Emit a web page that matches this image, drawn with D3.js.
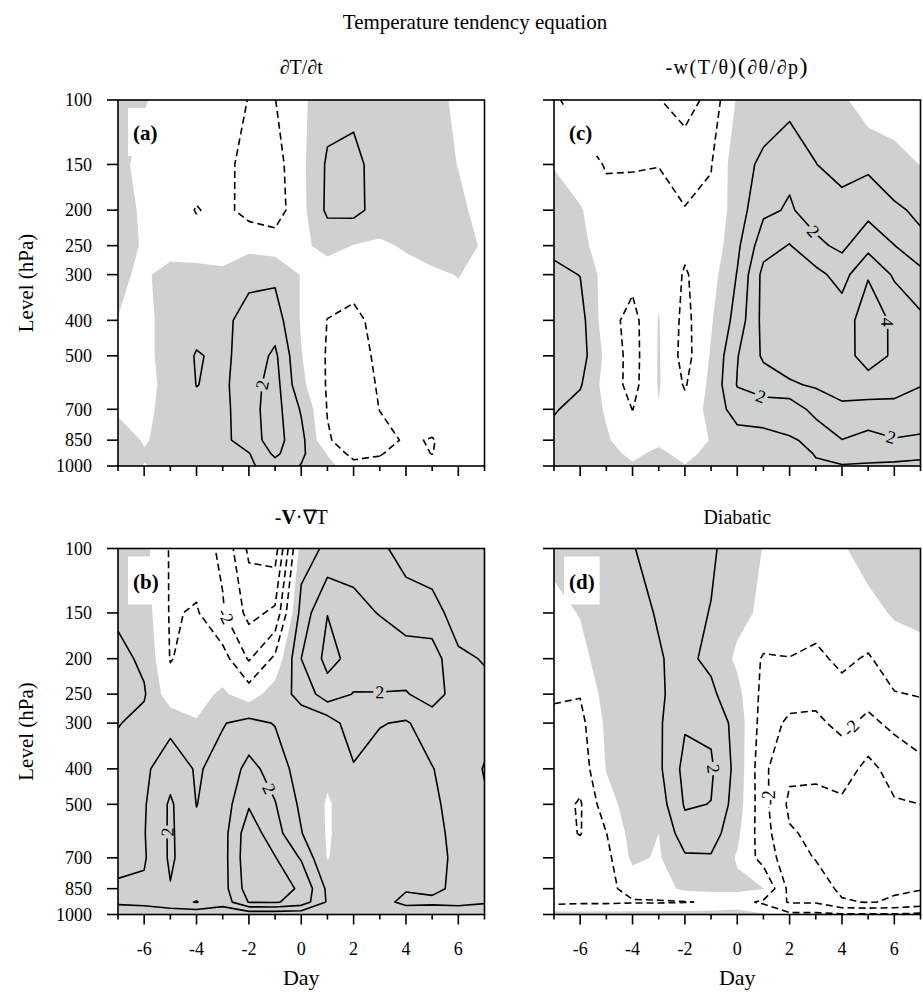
<!DOCTYPE html>
<html>
<head>
<meta charset="utf-8">
<title>Temperature tendency equation</title>
<script src="https://cdn.jsdelivr.net/npm/d3@7"></script>
<style>
  body { margin: 0; background: #fff; }
  text { font-family: "Liberation Serif", "Times New Roman", serif; fill: #000; }
</style>
</head>
<body>
<script>
// grid: days (columns) x pressure levels (rows, top to bottom)
var days = [-7, -6, -5, -4, -3, -2, -1, 0, 1, 2, 3, 4, 5, 6, 7];
var levels = [100, 150, 200, 250, 300, 400, 500, 600, 700, 850, 925, 1000];
var dayTicks = [-6, -4, -2, 0, 2, 4, 6];
var levelTicks = [100, 150, 200, 250, 300, 400, 500, 700, 850, 1000];
var lineLevels = [-5, -4, -3, -2, -1, 1, 2, 3, 4, 5];

// (a) dT/dt
var dTdt = [
  [0.4, 0.06, -0.3, -0.5, -0.7, -1.02, -1.02, -0.2, 0.6, 0.7, 0.6, 0.5, 0.25, -0.15, -0.4],
  [0.25, -0.3, -0.4, -0.6, -0.7, -1.35, -1.4, -0.25, 1.15, 1.3, 0.55, 0.45, 0.3, -0.02, -0.3],
  [0.25, -0.1, -0.5, -1.05, -0.75, -1.3, -1.5, -0.3, 1.2, 1.3, 0.6, 0.4, 0.3, 0.15, -0.25],
  [0.2, -0.05, -0.3, -0.6, -0.5, -0.35, -0.5, -0.2, 0.3, -0.03, -0.15, 0.1, 0.25, 0.3, -0.1],
  [0.1, -0.1, 0.25, 0.4, 0.2, 0.9, 0.8, -0.05, -0.5, -0.5, -0.4, -0.3, -0.1, 0.02, -0.2],
  [-0.01, -0.2, 0.3, 0.6, 0.9, 1.15, 1.5, -0.1, -1.02, -1.3, -0.6, -0.4, -0.3, -0.2, -0.2],
  [-0.3, -0.2, 0.3, 1.08, 0.8, 1.4, 2.2, 0.05, -1.1, -1.4, -0.8, -0.4, -0.3, -0.3, -0.2],
  [-0.3, -0.25, 0.25, 1.02, 0.8, 1.6, 2.4, 0.25, -1.1, -1.5, -0.9, -0.5, -0.4, -0.3, -0.2],
  [-0.1, -0.2, 0.3, 0.77, 0.7, 1.7, 2.4, 0.9, -1.05, -1.6, -0.98, -0.6, -0.5, -0.4, -0.3],
  [0.3, -0.05, 0.2, 0.5, 0.7, 1.6, 2.4, 1.3, -0.9, -1.5, -1.3, -0.9, -1.05, -0.6, -0.4],
  [0.4, 0.05, 0.1, 0.3, 0.5, 0.95, 2.2, 1.2, -0.05, -1.4, -1.05, -0.7, -1.02, -0.5, -0.3],
  [0.3, -0.02, 0.1, 0.3, 0.6, 0.8, 1.6, 0.95, 0.3, -0.6, -0.8, -0.6, -0.7, -0.4, -0.3]
];

// (b) horizontal advection
var hAdv = [
  [0.5, 0.3, -1.1, -1.5, -2.2, -4.2, -4.5, 0.5, 1.21, 1.8, 1.2, 0.6, 0.4, 0.2, 0.1],
  [0.8, 0.5, -1.1, -0.9, -1.9, -3.3, -2.8, 1.4, 2.98, 2.13, 1.98, 1.5, 1.35, 0.6, 0.5],
  [1.3, 0.8, -1.05, -0.6, -0.61, -2.1, -0.8, 2.0, 3.3, 2.7, 2.3, 2.5, 2.5, 1.15, 0.95],
  [1.5, 1.1, -0.6, -0.3, 0.15, -0.5, 0.5, 1.3, 2.57, 1.95, 1.98, 1.94, 2.39, 1.6, 1.2],
  [1.05, 0.7, 0.7, 0.06, 0.95, 1.3, 0.95, 0.5, 0.45, 1.6, 1.05, 0.9, 1.5, 1.6, 1.3],
  [0.6, 0.8, 1.6, 0.9, 1.3, 2.3, 1.6, 0.5, 0.2, 0.9, 0.6, 0.5, 0.96, 1.5, 0.95],
  [0.5, 0.9, 2.15, 0.98, 1.5, 2.9, 2.05, 0.8, -0.1, 0.5, 0.5, 0.5, 0.8, 1.4, 1.1],
  [0.6, 0.95, 2.15, 1.2, 1.6, 3.6, 2.4, 1.05, -0.1, 0.5, 0.5, 0.5, 0.7, 1.3, 1.2],
  [0.8, 0.9, 2.15, 1.3, 1.6, 3.7, 3.05, 1.9, -0.05, 0.6, 0.6, 0.5, 0.7, 1.2, 1.2],
  [1.1, 1.15, 1.95, 1.5, 1.6, 3.5, 3.3, 2.9, 0.8, 0.7, 0.6, 0.9, 0.8, 1.2, 1.2],
  [1.2, 1.3, 1.6, 2.05, 1.4, 3.05, 3.1, 2.6, 0.9, 0.6, 0.6, 1.3, 1.2, 1.3, 1.1],
  [0.2, 0.3, 0.4, 0.3, 0.3, 0.3, 0.3, 0.3, 0.3, 0.2, 0.2, 0.2, 0.3, 0.3, 0.3]
];

// (c) vertical motion term
var vertTerm = [
  [-0.9, -1.3, -1.5, -1.7, -1.95, -2.5, -1.63, 0.12, 0.45, 0.6, 0.5, 0.2, -0.6, -0.5, -0.6],
  [-0.05, -0.7, -1.05, -1.1, -1.02, -1.3, -1.05, 0.6, 1.2, 1.8, 1.02, 0.6, 0.8, 0.3, -0.02],
  [0.4, 0.1, -0.8, -0.5, -0.7, -0.97, -0.8, 0.5, 1.8, 2.1, 1.6, 1.4, 1.7, 1.18, 0.8],
  [0.8, 0.31, -0.6, -0.5, -0.3, -0.8, -0.7, 0.8, 2.6, 3.05, 2.2, 1.8, 2.67, 2.02, 1.24],
  [1.2, 0.98, -0.5, -0.7, -0.2, -1.1, -0.4, 1.05, 3.3, 3.5, 3.3, 2.6, 3.94, 2.85, 2.3],
  [1.5, 1.4, -0.6, -1.35, 0.05, -1.3, -0.1, 1.4, 3.3, 3.7, 3.6, 3.58, 4.44, 3.85, 3.2],
  [1.6, 1.47, -0.28, -1.4, 0.08, -1.4, 0.1, 1.95, 3.15, 3.4, 3.5, 3.7, 4.3, 3.9, 3.3],
  [1.5, 1.1, -0.4, -1.35, 0.08, -1.1, 0.25, 2.05, 2.5, 2.9, 3.1, 3.4, 3.7, 3.4, 3.05],
  [1.1, 0.6, -0.1, -1.02, -0.05, -0.65, 0.3, 1.5, 1.5, 1.3, 2.4, 2.8, 2.53, 2.69, 2.4],
  [0.6, 0.5, 0.1, -0.5, -0.2, -0.5, 0.05, 0.5, 0.67, 0.95, 1.1, 1.98, 1.75, 1.95, 1.9],
  [0.6, 0.5, 0.3, -0.2, 0.2, -0.3, 0.3, 0.3, 0.5, 0.6, 1.05, 1.5, 1.4, 1.3, 1.2],
  [0.6, 0.6, 0.5, 0.1, 0.5, 0.05, 0.5, 0.2, 0.4, 0.4, 0.9, 0.93, 0.87, 0.85, 0.8]
];

// (d) diabatic
var diabatic = [
  [0.3, 0.4, 0.6, 0.95, 1.4, 1.6, 1.2, 0.33, -0.02, -0.3, -0.4, -0.1, 0.4, 0.6, 0.7],
  [-0.3, 0.05, 0.6, 0.8, 1.05, 1.4, 0.95, 0.3, -0.2, -0.5, -0.6, -0.1, -0.3, 0.1, 0.3],
  [-0.6, -0.3, 0.5, 0.8, 0.95, 1.2, 0.8, -0.2, -1.1, -1.02, -1.2, -0.8, -1.1, -0.5, -0.4],
  [-0.9, -0.95, 0.4, 0.8, 0.9, 1.3, 1.2, 0.3, -1.3, -1.6, -1.8, -1.3, -1.7, -1.05, -0.95],
  [-1.2, -1.3, 0.2, 0.7, 0.85, 1.9, 1.8, 0.6, -1.5, -2.2, -2.15, -1.8, -2.2, -1.8, -1.4],
  [-1.5, -1.6, 0.05, 0.6, 0.8, 2.3, 2.15, 0.65, -1.8, -2.8, -2.85, -2.5, -3.3, -2.6, -2.3],
  [-1.6, -2.1, -0.4, 0.5, 0.5, 2.1, 1.98, 0.5, -1.7, -3.2, -3.2, -3.2, -3.5, -3.1, -3.0],
  [-1.6, -2.05, -1.02, 0.4, 0.0, 1.6, 1.5, 0.2, -1.6, -2.9, -3.2, -3.4, -3.6, -3.2, -3.05],
  [-1.5, -1.5, -1.3, 0.2, -0.1, 0.85, 0.9, -0.1, -1.4, -2.6, -3.05, -3.4, -3.5, -3.2, -3.1],
  [-1.4, -1.4, -1.3, -0.6, -0.4, 0.2, 0.3, 0.2, 0.02, -2.3, -2.5, -3.2, -3.3, -3.1, -3.05],
  [-1.3, -1.2, -1.2, -1.1, -1.1, -1.05, -0.9, -0.6, -1.2, -2.1, -2.1, -2.9, -3.05, -2.9, -2.6],
  [0.4, 0.4, 0.4, 0.4, 0.4, 0.4, 0.4, 0.4, 0.1, -0.8, -0.8, -0.9, -0.9, -0.9, -0.8]
];

// contour labels: value, and where (day, hPa) they sit
var labelsA = [{v: 2, day: -1.5, p: 600}];
var labelsB = [{v: -2, day: -2.8, p: 152}, {v: 2, day: 3.0, p: 250}, {v: 2, day: -1.27, p: 455}, {v: 2, day: -5.09, p: 595}];
var labelsC = [{v: 2, day: 2.92, p: 228}, {v: 2, day: 0.89, p: 650}, {v: 4, day: 5.85, p: 405}, {v: 2, day: 5.85, p: 845}];
var labelsD = [{v: 2, day: -1.0, p: 400}, {v: -2, day: 4.45, p: 315}, {v: -2, day: 1.07, p: 480}];

var W = 923, H = 994;
var gray = "#cfd1d1";

var svg = d3.select("body").append("svg").attr("width", W).attr("height", H);

var panels = [
  {id: "(a)", data: dTdt, labels: labelsA, x0: 118, x1: 484.5, y0: 100, y1: 466, xLab: false, yLab: true},
  {id: "(c)", data: vertTerm, labels: labelsC, x0: 554, x1: 920.5, y0: 100, y1: 466, xLab: false, yLab: false},
  {id: "(b)", data: hAdv, labels: labelsB, x0: 118, x1: 484.5, y0: 548.5, y1: 914.5, xLab: true, yLab: true},
  {id: "(d)", data: diabatic, labels: labelsD, x0: 554, x1: 920.5, y0: 548.5, y1: 914.5, xLab: true, yLab: false}
];

function clamp(v, a, b) { return Math.max(a, Math.min(b, v)); }

panels.forEach(function(P, pi) {
  var nx = days.length, ny = levels.length;
  var x = d3.scaleLinear().domain([days[0], days[nx - 1]]).range([P.x0, P.x1]);
  var y = d3.scaleLog().domain([levels[0], levels[ny - 1]]).range([P.y0, P.y1]);
  var g = svg.append("g");

  svg.append("clipPath").attr("id", "clip" + pi)
    .append("rect").attr("x", P.x0).attr("y", P.y0)
    .attr("width", P.x1 - P.x0).attr("height", P.y1 - P.y0);

  // contour grid point -> grid index (values sit at half-cells in d3.contours)
  function idx(pt) { return [clamp(pt[0] - 0.5, 0, nx - 1), clamp(pt[1] - 0.5, 0, ny - 1)]; }
  function scr(q) {
    var i = Math.min(Math.floor(q[0]), nx - 2), fi = q[0] - i;
    var j = Math.min(Math.floor(q[1]), ny - 2), fj = q[1] - j;
    var sx = x(days[i]) + fi * (x(days[i + 1]) - x(days[i]));
    var sy = y(levels[j]) + fj * (y(levels[j + 1]) - y(levels[j]));
    return [sx, sy];
  }
  var eps = 1e-6;
  function sameEdge(a, b) {
    return (a[0] <= eps && b[0] <= eps) || (a[0] >= nx - 1 - eps && b[0] >= nx - 1 - eps) ||
           (a[1] <= eps && b[1] <= eps) || (a[1] >= ny - 1 - eps && b[1] >= ny - 1 - eps);
  }

  var flat = [];
  P.data.forEach(function(row) { row.forEach(function(v) { flat.push(v); }); });
  var gen = d3.contours().size([nx, ny]);

  // shading where value > 0
  var pos = gen.thresholds([0])(flat)[0];
  var dFill = "";
  pos.coordinates.forEach(function(poly) {
    poly.forEach(function(ring) {
      dFill += "M" + ring.map(function(p) { return scr(idx(p)).join(","); }).join("L") + "Z";
    });
  });
  g.append("path").attr("d", dFill).attr("fill", gray).attr("fill-rule", "evenodd")
    .attr("clip-path", "url(#clip" + pi + ")");

  // contour lines, drop the pieces that run along the frame
  var segsByLevel = {};
  gen.thresholds(lineLevels)(flat).forEach(function(c) {
    var segs = segsByLevel[c.value] = [];
    var d = "";
    c.coordinates.forEach(function(poly) {
      poly.forEach(function(ring) {
        var pts = ring.map(idx);
        var down = false;
        for (var k = 0; k < pts.length - 1; k++) {
          var a = pts[k], b = pts[k + 1];
          if (sameEdge(a, b)) { down = false; continue; }
          var sa = scr(a), sb = scr(b);
          if (!down) { d += "M" + sa.join(","); down = true; }
          d += "L" + sb.join(",");
          segs.push([sa, sb]);
        }
      });
    });
    if (d) {
      g.append("path").attr("d", d).attr("fill", "none").attr("stroke", "#000")
        .attr("stroke-width", 1.6).attr("stroke-linejoin", "round")
        .attr("stroke-dasharray", c.value < 0 ? "7,4" : null)
        .attr("clip-path", "url(#clip" + pi + ")");
    }
  });

  // contour labels along the line
  P.labels.forEach(function(L) {
    var segs = segsByLevel[L.v];
    if (!segs || !segs.length) return;
    var tx = x(L.day), ty = y(L.p), best = null, bd = Infinity;
    segs.forEach(function(s) {
      var ax = s[0][0], ay = s[0][1], bx = s[1][0], by = s[1][1];
      var dx = bx - ax, dy = by - ay, len2 = dx * dx + dy * dy;
      if (len2 < 1e-9) return;
      var t = clamp(((tx - ax) * dx + (ty - ay) * dy) / len2, 0, 1);
      var px = ax + t * dx, py = ay + t * dy;
      var dist = (px - tx) * (px - tx) + (py - ty) * (py - ty);
      if (dist < bd) { bd = dist; best = {pt: [px, py], ang: Math.atan2(dy, dx) * 180 / Math.PI}; }
    });
    var ang = best.ang;
    if (ang > 90) ang -= 180;
    if (ang < -90) ang += 180;
    var lg = g.append("g").attr("transform", "translate(" + best.pt[0] + "," + best.pt[1] + ") rotate(" + ang + ")");
    var bg = lg.append("rect");
    var lt = lg.append("text").attr("text-anchor", "middle").attr("dy", "0.35em")
      .attr("font-size", 18).text(L.v);
    var bb = lt.node().getBBox();
    bg.attr("x", bb.x - 2).attr("y", -6).attr("width", bb.width + 4).attr("height", 12)
      .attr("fill", L.v > 0 ? gray : "#fff");
  });

  // panel letter in a white box
  var idg = g.append("g");
  var idBox = idg.append("rect").attr("fill", "#fff");
  var idText = idg.append("text").attr("x", P.x0 + 15).attr("y", P.y0 + 40)
    .attr("font-size", 21).attr("font-weight", "bold").text(P.id);
  var ib = idText.node().getBBox();
  idBox.attr("x", ib.x - 5).attr("y", P.y0 + 8).attr("width", ib.width + 10).attr("height", 48);

  // frame
  g.append("rect").attr("x", P.x0).attr("y", P.y0).attr("width", P.x1 - P.x0)
    .attr("height", P.y1 - P.y0).attr("fill", "none").attr("stroke", "#000").attr("stroke-width", 1.6);

  // y ticks
  levelTicks.forEach(function(p) {
    g.append("line").attr("x1", P.x0 - 11).attr("x2", P.x0).attr("y1", y(p)).attr("y2", y(p))
      .attr("stroke", "#000").attr("stroke-width", 1.6);
    if (P.yLab) {
      g.append("text").attr("x", P.x0 - 26).attr("y", y(p)).attr("dy", "0.35em")
        .attr("text-anchor", "end").attr("font-size", 18).text(p);
    }
  });

  // x ticks, long on labelled days
  days.forEach(function(d) {
    var major = dayTicks.indexOf(d) >= 0;
    g.append("line").attr("x1", x(d)).attr("x2", x(d)).attr("y1", P.y1).attr("y2", P.y1 + (major ? 10 : 5))
      .attr("stroke", "#000").attr("stroke-width", 1.6);
    if (P.xLab && major) {
      g.append("text").attr("x", x(d)).attr("y", P.y1 + 40).attr("text-anchor", "middle")
        .attr("font-size", 18).text(d);
    }
  });

  if (P.yLab) {
    g.append("text").attr("transform", "translate(33," + ((P.y0 + P.y1) / 2) + ") rotate(-90)")
      .attr("text-anchor", "middle").attr("font-size", 21).text("Level (hPa)");
  }
  if (P.xLab) {
    g.append("text").attr("x", (P.x0 + P.x1) / 2).attr("y", P.y1 + 70).attr("text-anchor", "middle")
      .attr("font-size", 22).text("Day");
  }
  P.cx = (P.x0 + P.x1) / 2;
});

// titles
svg.append("text").attr("x", 475).attr("y", 29).attr("text-anchor", "middle")
  .attr("font-size", 21).text("Temperature tendency equation");
svg.append("text").attr("x", panels[0].cx).attr("y", 74).attr("text-anchor", "middle")
  .attr("font-size", 20).text("\u2202T/\u2202t");
var tc = svg.append("text").attr("x", panels[1].cx).attr("y", 74).attr("text-anchor", "middle")
  .attr("font-size", 20).attr("letter-spacing", 1.5);
tc.append("tspan").text("-w(T/\u03b8)");
tc.append("tspan").attr("font-size", 24).text("(");
tc.append("tspan").text("\u2202\u03b8/\u2202p");
tc.append("tspan").attr("font-size", 24).text(")");
var tb = svg.append("text").attr("x", panels[2].cx).attr("y", 524).attr("text-anchor", "middle")
  .attr("font-size", 20);
tb.append("tspan").text("-");
tb.append("tspan").attr("font-weight", "bold").text("V");
tb.append("tspan").text("\u00b7\u2207T");
svg.append("text").attr("x", panels[3].cx).attr("y", 524).attr("text-anchor", "middle")
  .attr("font-size", 20).text("Diabatic");
</script>
</body>
</html>
